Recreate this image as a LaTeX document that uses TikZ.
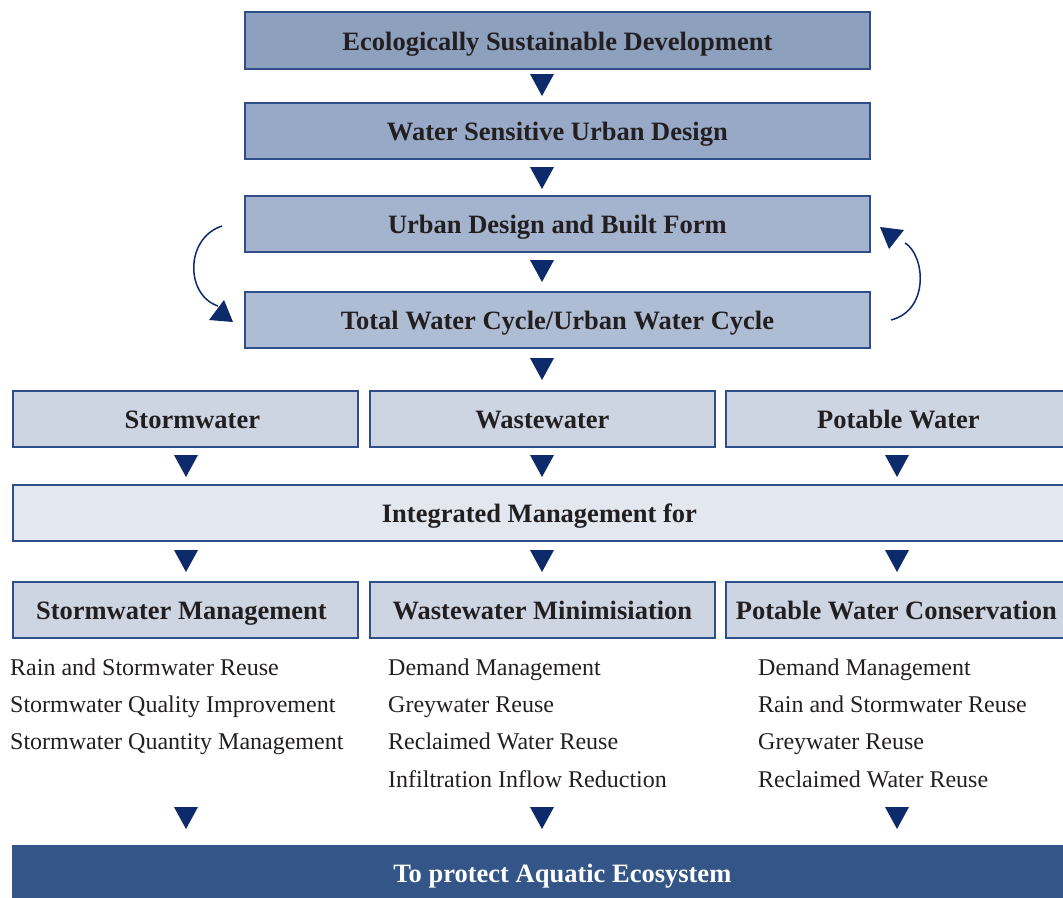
\documentclass[tikz,border=0pt]{standalone}
\usepackage{fontspec}
\setmainfont{Liberation Serif}
\definecolor{edge}{HTML}{2F4F8A}
\definecolor{navy}{HTML}{0D2B6B}
\definecolor{txt}{HTML}{231F20}
\definecolor{fA}{HTML}{8DA0BE}
\definecolor{fB}{HTML}{97A9C6}
\definecolor{fC}{HTML}{A4B4CE}
\definecolor{fD}{HTML}{AFBDD4}
\definecolor{fE}{HTML}{CDD5E3}
\definecolor{fF}{HTML}{E3E7F0}
\definecolor{fG}{HTML}{335588}
\tikzset{
  box/.style={draw=edge, line width=1.8pt, inner sep=0pt, anchor=north west, text=txt,
    text height=22pt, text depth=2pt,
    font=\fontsize{26.5}{30}\selectfont\bfseries},
  tri/.style={fill=navy, draw=none},
  item/.style={anchor=base west, inner sep=0pt, text=txt, font=\fontsize{24}{28}\selectfont},
  curve/.style={draw=navy, line width=1.5pt},
}
\newcommand{\downtri}[2]{\fill[tri] (#1-12,#2) -- (#1+12,#2) -- (#1,#2+22) -- cycle;}
\begin{document}
\begin{tikzpicture}[x=1pt,y=-1pt]
\useasboundingbox (0,0) rectangle (1063,897);
\clip (0,0) rectangle (1063,897);
% top chain
\node[box, fill=fA, minimum width=625pt, minimum height=57pt] (esd) at (244,11) {Ecologically Sustainable Development};
\node[box, fill=fB, minimum width=625pt, minimum height=56pt] (wsud) at (244,102) {Water Sensitive Urban Design};
\node[box, fill=fC, minimum width=625pt, minimum height=56pt] (udbf) at (244,195) {Urban Design and Built Form};
\node[box, fill=fD, minimum width=625pt, minimum height=56pt] (twc) at (244,291) {Total Water Cycle/Urban Water Cycle};
% row of three
\node[box, fill=fE, minimum width=345pt, minimum height=56pt] (sw) at (12,390) {\hspace*{14pt}Stormwater};
\node[box, fill=fE, minimum width=345pt, minimum height=56pt] (ww) at (369,390) {Wastewater};
\node[box, fill=fE, minimum width=345pt, minimum height=56pt] (pw) at (725,390) {Potable Water};
% integrated
\node[box, fill=fF, minimum width=1061pt, minimum height=56pt] (im) at (12,484) {\hspace*{-8pt}Integrated Management for};
% row three
\node[box, fill=fE, minimum width=345pt, minimum height=56pt] (swm) at (12,581) {\hspace*{-8pt}Stormwater Management};
\node[box, fill=fE, minimum width=345pt, minimum height=56pt] (wwm) at (369,581) {Wastewater Minimisiation};
\node[box, fill=fE, minimum width=345pt, minimum height=56pt] (pwc) at (725,581) {\hspace*{-4pt}Potable Water Conservation};
% bottom
\node[box, fill=fG, draw=fG, text=white, minimum width=1061pt, minimum height=54pt] (pae) at (12,845) {\hspace*{38pt}To protect Aquatic Ecosystem};
% lists
\node[item] (l1) at (10,675) {Rain and Stormwater Reuse};
\node[item] (l2) at (10,712) {Stormwater Quality Improvement};
\node[item] (l3) at (10,749) {Stormwater Quantity Management};
\node[item] (m1) at (388,675) {Demand Management};
\node[item] (m2) at (388,712) {Greywater Reuse};
\node[item] (m3) at (388,749) {Reclaimed Water Reuse};
\node[item] (m4) at (388,787) {Infiltration Inflow Reduction};
\node[item] (r1) at (758,675) {Demand Management};
\node[item] (r2) at (758,712) {Rain and Stormwater Reuse};
\node[item] (r3) at (758,749) {Greywater Reuse};
\node[item] (r4) at (758,787) {Reclaimed Water Reuse};
% triangles
\downtri{542}{74}
\downtri{542}{167}
\downtri{542}{260}
\downtri{542}{358}
\downtri{186}{455}
\downtri{542}{455}
\downtri{897}{455}
\downtri{186}{550}
\downtri{542}{550}
\downtri{897}{550}
\downtri{186}{807}
\downtri{542}{807}
\downtri{897}{807}
% curved arrows
\coordinate (ls) at (222,226);
\coordinate (le) at (218,306);
\coordinate (rs) at (891,320);
\coordinate (re) at (905,243);
\draw[curve] (ls) .. controls (185,238) and (185,295) .. (le);
\fill[navy] (233,322) -- (209,320) -- (224,300) -- cycle;
\draw[curve] (rs) .. controls (930,310) and (925,255) .. (re);
\fill[navy] (880,227) -- (904,230) -- (889,249) -- cycle;
\end{tikzpicture}
\end{document}
